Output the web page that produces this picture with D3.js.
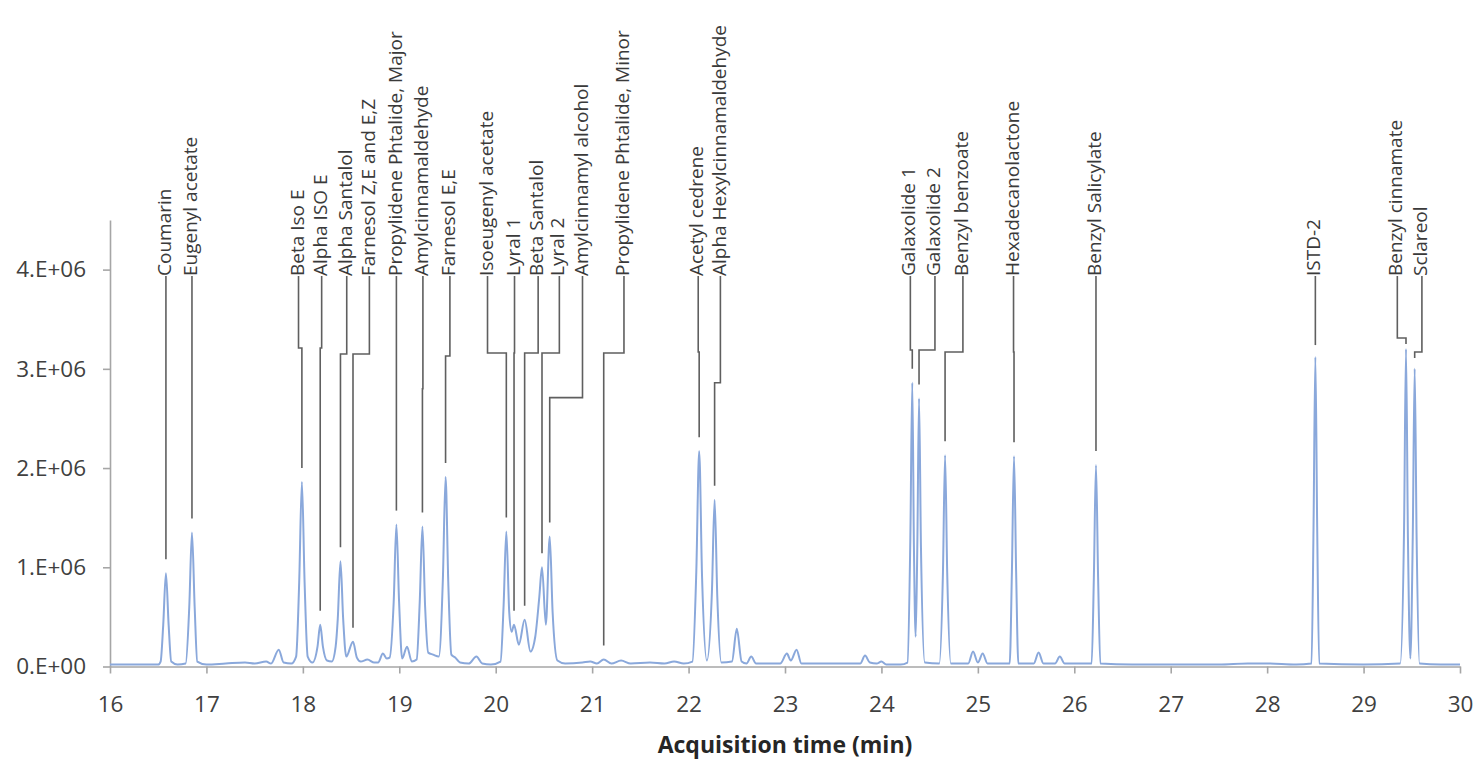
<!DOCTYPE html>
<html>
<head>
<meta charset="utf-8">
<script src="https://cdn.jsdelivr.net/npm/d3@7"></script>
<style>
  body { margin: 0; background: #fff; }
  .chart text { font-family: "Open Sans", sans-serif; }
</style>
</head>
<body>
<div class="chart"></div>
<script>
// trace: [acquisition time (min), abundance (millions of counts)]
const trace = [
  [16.0, 0.02], [16.3, 0.02], [16.5, 0.02],
  [16.525, 0.05], [16.552, 0.42], [16.58, 0.94], [16.608, 0.42], [16.635, 0.05],
  [16.7, 0.02], [16.785, 0.03],
  [16.822, 0.6], [16.85, 1.35], [16.878, 0.6], [16.905, 0.05],
  [17.0, 0.02], [17.2, 0.03], [17.4, 0.04], [17.5, 0.03], [17.62, 0.05], [17.67, 0.03],
  [17.75, 0.17], [17.8, 0.04], [17.88, 0.03],
  [17.93, 0.1], [17.962, 0.85], [17.99, 1.86], [18.018, 0.85], [18.05, 0.1], [18.1, 0.04],
  [18.152, 0.2], [18.18, 0.42], [18.208, 0.2], [18.25, 0.06], [18.3, 0.05],
  [18.34, 0.2], [18.362, 0.48], [18.39, 1.06], [18.418, 0.48], [18.45, 0.1],
  [18.52, 0.25], [18.56, 0.09], [18.6, 0.05], [18.67, 0.07], [18.74, 0.04], [18.78, 0.04],
  [18.83, 0.13], [18.87, 0.08], [18.9, 0.09],
  [18.942, 0.65], [18.97, 1.43], [18.998, 0.65], [19.03, 0.08],
  [19.08, 0.2], [19.13, 0.05], [19.18, 0.07],
  [19.212, 0.65], [19.24, 1.41], [19.268, 0.6], [19.3, 0.14], [19.35, 0.12], [19.41, 0.1],
  [19.452, 0.88], [19.48, 1.91], [19.508, 0.85], [19.54, 0.12], [19.58, 0.09], [19.63, 0.04], [19.72, 0.03],
  [19.8, 0.1], [19.86, 0.03], [19.95, 0.02], [20.05, 0.05],
  [20.082, 0.62], [20.11, 1.36], [20.14, 0.55], [20.165, 0.35],
  [20.19, 0.42], [20.24, 0.22],
  [20.3, 0.47], [20.36, 0.15], [20.41, 0.3],
  [20.452, 0.7], [20.48, 1.0], [20.52, 0.42],
  [20.56, 1.31], [20.59, 0.55], [20.64, 0.06], [20.72, 0.03],
  [20.9, 0.04], [20.98, 0.05], [21.05, 0.03], [21.12, 0.07], [21.2, 0.03], [21.3, 0.06],
  [21.4, 0.03], [21.6, 0.04], [21.75, 0.03], [21.85, 0.05], [21.95, 0.03], [22.04, 0.05],
  [22.08, 0.95], [22.11, 2.17], [22.14, 0.9], [22.19, 0.06],
  [22.242, 0.75], [22.27, 1.68], [22.298, 0.7], [22.34, 0.04],
  [22.45, 0.05], [22.5, 0.38], [22.55, 0.05], [22.6, 0.03], [22.65, 0.1], [22.7, 0.03],
  [22.95, 0.03], [23.02, 0.13], [23.06, 0.06], [23.12, 0.17], [23.17, 0.03],
  [23.5, 0.03], [23.78, 0.03], [23.83, 0.11], [23.88, 0.04], [23.95, 0.03], [24.0, 0.05],
  [24.05, 0.02], [24.2, 0.02], [24.27, 0.04],
  [24.3, 1.3], [24.32, 2.86], [24.337, 1.2], [24.355, 0.3], [24.372, 1.2], [24.39, 2.7], [24.41, 1.2], [24.45, 0.04],
  [24.6, 0.03], [24.638, 0.95], [24.66, 2.13], [24.682, 0.95], [24.72, 0.03],
  [24.9, 0.03], [24.95, 0.15], [25.0, 0.04], [25.05, 0.13], [25.1, 0.03],
  [25.33, 0.03], [25.353, 0.95], [25.375, 2.12], [25.397, 0.95], [25.42, 0.03],
  [25.58, 0.03], [25.63, 0.14], [25.68, 0.03], [25.8, 0.03], [25.85, 0.1], [25.9, 0.03],
  [26.18, 0.03], [26.203, 0.9], [26.225, 2.03], [26.247, 0.9], [26.27, 0.03],
  [26.6, 0.02], [27.0, 0.02], [27.5, 0.02], [27.8, 0.03], [28.0, 0.03], [28.3, 0.02], [28.46, 0.03],
  [28.481, 1.4], [28.5, 3.12], [28.519, 1.4], [28.54, 0.03],
  [29.0, 0.02], [29.38, 0.03],
  [29.42, 1.4], [29.44, 3.2], [29.46, 1.3], [29.485, 0.08], [29.51, 1.3], [29.53, 3.0], [29.55, 1.3], [29.58, 0.03],
  [29.8, 0.02], [30.0, 0.02],
];

const compounds = [
  "Coumarin", "Eugenyl acetate", "Beta Iso E", "Alpha ISO E", "Alpha Santalol",
  "Farnesol Z,E and E,Z", "Propylidene Phtalide, Major", "Amylcinnamaldehyde", "Farnesol E,E",
  "Isoeugenyl acetate", "Lyral 1", "Beta Santalol", "Lyral 2", "Amylcinnamyl alcohol",
  "Propylidene Phtalide, Minor", "Acetyl cedrene", "Alpha Hexylcinnamaldehyde",
  "Galaxolide 1", "Galaxolide 2", "Benzyl benzoate", "Hexadecanolactone", "Benzyl Salicylate",
  "ISTD-2", "Benzyl cinnamate", "Sclareol",
];
// apex of each labelled peak
const peakTime = [
  16.58, 16.85, 17.99, 18.18, 18.39, 18.52, 18.97, 19.24, 19.48, 20.11, 20.19, 20.3, 20.48,
  20.56, 21.12, 22.11, 22.27, 24.32, 24.39, 24.66, 25.375, 26.225, 28.5, 29.44, 29.53,
];
const peakHeight = [
  0.94, 1.35, 1.86, 0.42, 1.06, 0.25, 1.43, 1.41, 1.91, 1.36, 0.42, 0.47, 1.0,
  1.31, 0.07, 2.17, 1.68, 2.86, 2.7, 2.13, 2.12, 2.03, 3.12, 3.2, 3.0,
];
// where each label sits (min) and the level where its leader turns (millions)
const labelTime = [
  16.58, 16.85, 17.955, 18.195, 18.455, 18.69, 18.97, 19.245, 19.525, 19.915, 20.195, 20.44, 20.66,
  20.9, 21.33, 22.1, 22.33, 24.3, 24.555, 24.845, 25.37, 26.225, 28.5, 29.35, 29.605,
];
const elbowLevel = [
  3.17, 3.17, 3.21, 3.21, 3.15, 3.15, 3.17, 2.8, 3.13, 3.16, 3.16, 3.16, 3.16,
  2.71, 3.16, 3.17, 2.86, 3.19, 3.19, 3.17, 3.17, 3.17, 3.3, 3.31, 3.17,
];

const xTicks = [16, 17, 18, 19, 20, 21, 22, 23, 24, 25, 26, 27, 28, 29, 30];
const yTicks = [0, 1, 2, 3, 4];
const yTickLabels = ["0.E+00", "1.E+06", "2.E+06", "3.E+06", "4.E+06"];

function drawChromatogram() {
  let width = 1479,
    height = 761,
    labelBase = 276;

  let svg = d3
    .select(".chart")
    .append("svg")
    .attr("width", width)
    .attr("height", height);

  let xScale = d3.scaleLinear().domain([16, 30]).range([110, 1460]);
  let yScale = d3.scaleLinear().domain([0, 4.5]).range([666.5, 220]);

  let xAxis = d3
    .axisBottom(xScale)
    .tickValues(xTicks)
    .tickSize(7)
    .tickSizeOuter(0)
    .tickPadding(23)
    .tickFormat(d3.format("d"));

  let yAxis = d3
    .axisLeft(yScale)
    .tickValues(yTicks)
    .tickSize(7)
    .tickSizeOuter(0)
    .tickPadding(17)
    .tickFormat((d, i) => yTickLabels[i]);

  let gx = svg
    .append("g")
    .attr("transform", "translate(0," + yScale(0) + ")")
    .call(xAxis);
  let gy = svg
    .append("g")
    .attr("transform", "translate(" + xScale(16) + ",0)")
    .call(yAxis);

  [gx, gy].forEach(function (g) {
    g.selectAll("path, line").attr("stroke", "#a6a6a6").attr("stroke-width", 1.6);
    g.selectAll("text")
      .attr("fill", "#404040")
      .style("font-size", "22.5px");
  });

  svg
    .append("text")
    .attr("x", (xScale(16) + xScale(30)) / 2)
    .attr("y", 753)
    .attr("text-anchor", "middle")
    .attr("fill", "#262626")
    .style("font-size", "23px")
    .style("font-weight", "bold")
    .text("Acquisition time (min)");

  let line = d3
    .line()
    .x((d) => xScale(d[0]))
    .y((d) => yScale(d[1]))
    .curve(d3.curveMonotoneX);

  svg
    .append("path")
    .datum(trace)
    .attr("d", line)
    .attr("fill", "none")
    .attr("stroke", "#8aa8db")
    .attr("stroke-width", 2)
    .attr("stroke-linejoin", "round");

  // leader lines: down from the label, across to the peak, down to just above the apex
  let leaders = svg.append("g");
  compounds.forEach(function (name, i) {
    let lx = xScale(labelTime[i]),
      px = xScale(peakTime[i]),
      ey = yScale(elbowLevel[i]),
      endY = Math.max(yScale(peakHeight[i]) - 14, ey + 6);
    let path = d3.path();
    path.moveTo(lx, labelBase);
    path.lineTo(lx, ey);
    path.lineTo(px, ey);
    path.lineTo(px, endY);
    leaders
      .append("path")
      .attr("d", path.toString())
      .attr("fill", "none")
      .attr("stroke", "#5f5f5f")
      .attr("stroke-width", 1.6);
  });

  svg
    .append("g")
    .selectAll("text")
    .data(compounds)
    .enter()
    .append("text")
    .attr(
      "transform",
      (d, i) => "translate(" + xScale(labelTime[i]) + "," + labelBase + ") rotate(-90)"
    )
    .attr("dy", "0.27em")
    .attr("fill", "#3a3a3a")
    .style("font-size", "19px")
    .text((d) => d);
}

drawChromatogram();
</script>
</body>
</html>
